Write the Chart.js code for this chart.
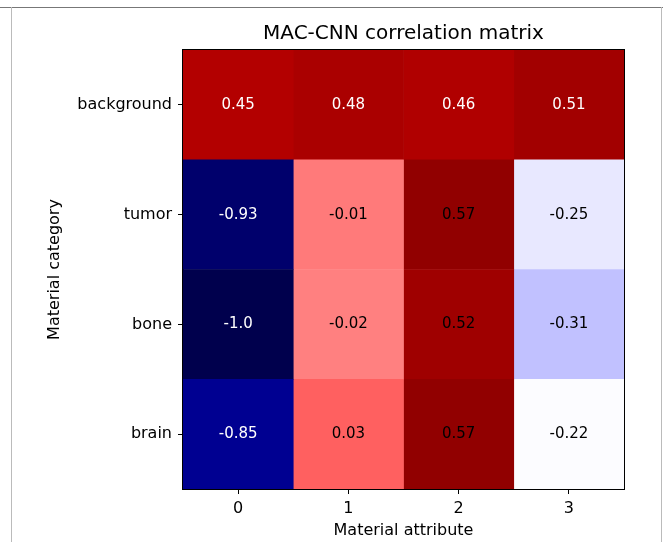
<!DOCTYPE html>
<html><head><meta charset="utf-8">
<script src="https://cdn.jsdelivr.net/npm/chart.js@4.4.0/dist/chart.umd.min.js"></script>
<style>
html,body{margin:0;padding:0;background:#fff;}
#wrap{position:relative;width:663px;height:542px;overflow:hidden;}
canvas{display:block;}
.fl{position:absolute;pointer-events:none;}
</style></head><body>
<div id="wrap"><canvas id="c" width="663" height="542"></canvas>
<div class="fl" style="left:0;top:7px;width:663px;height:1px;background:#777"></div>
<div class="fl" style="left:11px;top:7px;width:1px;height:535px;background:#bbb"></div>
<div class="fl" style="left:661px;top:7px;width:1px;height:535px;background:#bbb"></div>
</div>
<script>
const rowLabels = ['background', 'tumor', 'bone', 'brain'];
const colLabels = ['0', '1', '2', '3'];
const row_background = [0.45, 0.48, 0.46, 0.51];
const row_tumor = [-0.93, -0.01, 0.57, -0.25];
const row_bone = [-1.0, -0.02, 0.52, -0.31];
const row_brain = [-0.85, 0.03, 0.57, -0.22];
const matrix = [row_background, row_tumor, row_bone, row_brain];

const allVals = matrix.flat();
const vmin = Math.min(...allVals), vmax = Math.max(...allVals);

// seismic-like diverging colormap
function seismic(v) {
  const stops = [[0, 0, 0.3], [0, 0, 1], [1, 1, 1], [1, 0, 0], [0.57, 0, 0]];
  let t = (v - vmin) / (vmax - vmin);
  t = Math.min(1, Math.max(0, t));
  const p = t * 4;
  const i = Math.min(3, Math.floor(p));
  const f = p - i;
  const a = stops[i], b = stops[i + 1];
  const c = [0, 1, 2].map(k => Math.round(255 * (a[k] + (b[k] - a[k]) * f)));
  return `rgb(${c[0]},${c[1]},${c[2]})`;
}

function fmt(v) { return Number.isInteger(v) ? v.toFixed(1) : String(v); }

const datasets = colLabels.map((lab, c) => ({
  label: lab,
  data: rowLabels.map(() => [c - 0.5, c + 0.5]),
  values: rowLabels.map((r, ri) => matrix[ri][c]),
  backgroundColor: rowLabels.map((r, ri) => seismic(matrix[ri][c])),
  borderWidth: 0,
  barPercentage: 1,
  categoryPercentage: 1,
  grouped: false
}));

const FONT = 'DejaVu Sans';

const annot = {
  id: 'annot',
  afterDatasetsDraw(chart) {
    const ctx = chart.ctx;
    ctx.save();
    ctx.font = `15px "${FONT}"`;
    ctx.textAlign = 'center';
    ctx.textBaseline = 'middle';
    chart.data.datasets.forEach((ds, c) => {
      const meta = chart.getDatasetMeta(c);
      meta.data.forEach((el, r) => {
        const cx = (el.x + el.base) / 2;
        const cy = el.y;
        ctx.fillStyle = (r === 0 || c === 0) ? '#ffffff' : '#000000';
        ctx.fillText(fmt(ds.values[r]), cx, cy);
      });
    });
    const a = chart.chartArea;
    ctx.strokeStyle = '#000';
    ctx.lineWidth = 1;
    ctx.strokeRect(Math.round(a.left) - 0.5, Math.round(a.top) - 0.5, Math.round(a.right - a.left) + 1, Math.round(a.bottom - a.top) + 1);
    ctx.restore();
  }
};

new Chart(document.getElementById('c'), {
  type: 'bar',
  data: { labels: rowLabels, datasets },
  options: {
    indexAxis: 'y',
    responsive: false,
    animation: false,
    devicePixelRatio: 1,
    layout: { padding: { left: 0, right: 39, top: 0, bottom: 0 } },
    plugins: {
      legend: { display: false },
      tooltip: { enabled: false },
      title: {
        display: true,
        text: 'MAC-CNN correlation matrix',
        fullSize: false,
        color: '#000',
        font: { family: FONT, size: 20, weight: 'normal', lineHeight: 1.2 },
        padding: { top: 22, bottom: 4 }
      }
    },
    scales: {
      x: {
        type: 'linear',
        min: -0.5, max: 3.5,
        afterBuildTicks: s => { s.ticks = colLabels.map((l, i) => ({ value: i })); },
        afterFit: s => { s.height = 53; },
        ticks: { callback: v => colLabels[v], color: '#000', font: { family: FONT, size: 16 }, padding: 5, maxRotation: 0, autoSkip: false },
        grid: { drawOnChartArea: false, drawTicks: true, tickLength: 5, color: '#000', tickColor: '#000', lineWidth: 1 },
        border: { display: true, color: '#000', width: 1 },
        title: { display: true, text: 'Material attribute', color: '#000', font: { family: FONT, size: 16, lineHeight: 1.2 }, padding: { top: 0, bottom: 2 } }
      },
      y: {
        type: 'category',
        offset: true,
        afterFit: s => { s.width = 183; },
        ticks: { color: '#000', font: { family: FONT, size: 16 }, padding: 6, autoSkip: false },
        grid: { offset: false, drawOnChartArea: false, drawTicks: true, tickLength: 5, color: '#000', tickColor: '#000', lineWidth: 1 },
        border: { display: true, color: '#000', width: 1 },
        title: { display: true, text: 'Material category', color: '#000', font: { family: FONT, size: 16, lineHeight: 1.2 }, padding: { top: 45, bottom: 0 } }
      }
    }
  },
  plugins: [annot]
});
</script>
</body></html>
